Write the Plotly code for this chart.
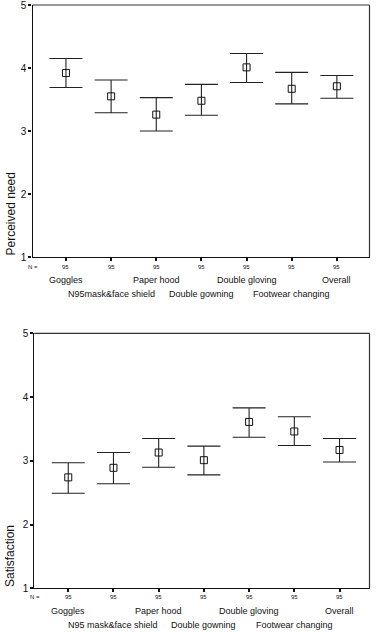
import plotly.graph_objects as go

# ---- data ----
cats_top = ["Goggles", "N95mask&face shield", "Paper hood", "Double gowning",
            "Double gloving", "Footwear changing", "Overall"]
cats_bot = ["Goggles", "N95 mask&face shield", "Paper hood", "Double gowning",
            "Double gloving", "Footwear changing", "Overall"]
n_values = [95, 95, 95, 95, 95, 95, 95]

need_mean = [3.92, 3.55, 3.26, 3.48, 4.01, 3.67, 3.71]
need_low = [3.69, 3.29, 3.00, 3.25, 3.77, 3.43, 3.52]
need_high = [4.15, 3.81, 3.53, 3.74, 4.23, 3.93, 3.88]

sat_mean = [2.74, 2.89, 3.13, 3.01, 3.61, 3.46, 3.17]
sat_low = [2.49, 2.64, 2.90, 2.78, 3.37, 3.24, 2.98]
sat_high = [2.97, 3.13, 3.35, 3.23, 3.83, 3.69, 3.35]

y_ticks = [1, 2, 3, 4, 5]

W, H = 376, 632
FONT = "Liberation Sans, Arial, sans-serif"


def py(p):
    return 1 - p / H


def px(p):
    return p / W


xs = list(range(len(cats_top)))

fig = go.Figure()


def add_panel(mean, low, high, xa, ya):
    fig.add_trace(go.Scatter(
        x=xs, y=mean, mode="markers", xaxis=xa, yaxis=ya,
        marker=dict(symbol="square-open", size=7, color="#111",
                    line=dict(width=1, color="#111")),
        error_y=dict(type="data", symmetric=False,
                     array=[h - m for h, m in zip(high, mean)],
                     arrayminus=[m - l for m, l in zip(mean, low)],
                     width=16.5, thickness=1.1, color="#222"),
        showlegend=False, hoverinfo="skip", cliponaxis=False))


add_panel(need_mean, need_low, need_high, "x", "y")
add_panel(sat_mean, sat_low, sat_high, "x2", "y2")

axis_common = dict(showgrid=False, zeroline=False, showline=True,
                   linecolor="#111", linewidth=1.2, ticks="outside",
                   ticklen=3, tickwidth=2, tickcolor="#111",
                   automargin=False, ticklabeloverflow="allow")

fig.update_layout(
    width=W, height=H, margin=dict(l=0, r=0, t=0, b=0, autoexpand=False),
    paper_bgcolor="white", plot_bgcolor="white",
    font=dict(family=FONT, color="#111"),
    xaxis=dict(domain=[px(32.5), px(369.5)], range=[-0.741, 6.723],
               anchor="y", tickvals=xs, showticklabels=False, **axis_common),
    yaxis=dict(domain=[py(257), py(5)], range=[1, 5], anchor="x",
               tickvals=y_ticks, tickfont=dict(size=10, family=FONT),
               **axis_common),
    xaxis2=dict(domain=[px(34.3), px(369.5)], range=[-0.751, 6.663],
                anchor="y2", tickvals=xs, showticklabels=False, **axis_common),
    yaxis2=dict(domain=[py(588.3), py(333.3)], range=[1, 5], anchor="x2",
                tickvals=y_ticks, tickfont=dict(size=10, family=FONT),
                **axis_common),
)

# frame (top & right edges)
for xr, yr in (("x domain", "y domain"), ("x2 domain", "y2 domain")):
    fig.add_shape(type="line", xref=xr, yref=yr, x0=0, x1=1, y0=1, y1=1,
                  line=dict(color="#333", width=1.2))
    fig.add_shape(type="line", xref=xr, yref=yr, x0=1, x1=1, y0=0, y1=1,
                  line=dict(color="#333", width=1.2))

ann = []


def labels(cats, xref, n_y, row1_y, row2_y, nlabel_x, title, title_bottom):
    for i, c in enumerate(cats):
        ann.append(dict(x=i, y=py(n_y), xref=xref, yref="paper",
                        text=str(n_values[i]), showarrow=False,
                        font=dict(size=6, family=FONT, color="#111"),
                        xanchor="center", yanchor="middle"))
        ann.append(dict(x=i, y=py(row1_y if i % 2 == 0 else row2_y),
                        xref=xref, yref="paper", text=c, showarrow=False,
                        font=dict(size=9, family=FONT, color="#111"),
                        xanchor="center", yanchor="middle"))
    ann.append(dict(x=px(nlabel_x), y=py(n_y), xref="paper", yref="paper",
                    text="N =", showarrow=False,
                    font=dict(size=6, family=FONT, color="#111"),
                    xanchor="center", yanchor="middle"))
    ann.append(dict(x=px(10), y=py(title_bottom), xref="paper", yref="paper",
                    text=title, textangle=-90, showarrow=False,
                    font=dict(size=12, family=FONT, color="#111"),
                    xanchor="center", yanchor="bottom"))


labels(cats_top, "x", 266.7, 280, 294.5, 33, "Perceived need", 258)
labels(cats_bot, "x2", 597.3, 610.7, 625, 35, "Satisfaction", 589)

fig.update_layout(annotations=ann)
fig.write_html(
    "out.html",
    config={"displayModeBar": False},
    post_script="document.body.style.margin='0px';"
                "document.body.style.overflow='hidden';",
)
